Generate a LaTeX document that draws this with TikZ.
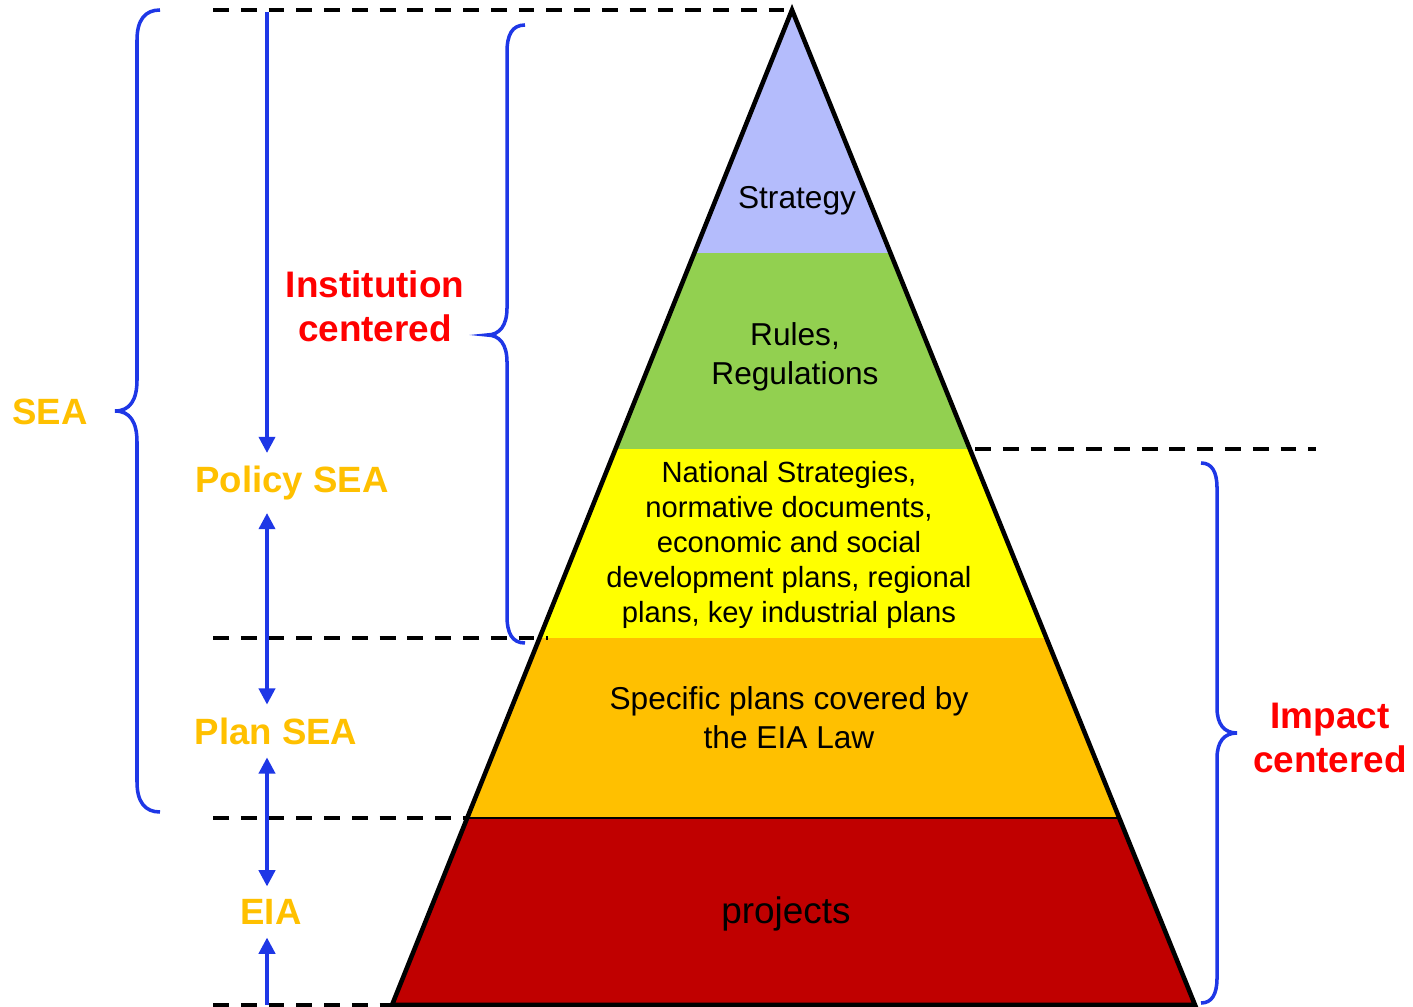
\documentclass[tikz,border=0pt]{standalone}
\usepackage{fontspec}
\setmainfont{Liberation Sans}
\usetikzlibrary{arrows.meta}

\definecolor{stratblue}{RGB}{180,188,252}
\definecolor{rulesgreen}{RGB}{146,208,80}
\definecolor{natyellow}{RGB}{255,255,0}
\definecolor{planorange}{RGB}{255,192,0}
\definecolor{projred}{RGB}{192,0,0}
\definecolor{seagold}{RGB}{255,192,0}
\definecolor{linkblue}{RGB}{30,55,230}
\definecolor{focusred}{RGB}{255,0,0}

\tikzset{
    tiertext/.style={align=center, font=\fontsize{9}{11.1}\selectfont},
    seatext/.style={inner sep=0pt, text=seagold, font=\bfseries\fontsize{10.4}{12.5}\selectfont},
    focustext/.style={align=center, text=focusred, font=\bfseries\fontsize{10.5}{12.5}\selectfont},
    flow/.style={linkblue, line width=1pt, shorten <=3.5pt, shorten >=3.5pt,
        >={Triangle[length=4.6pt, width=4.6pt]}},
    bracket/.style={linkblue, line width=1pt},
    guide/.style={line width=1pt, dash pattern=on 4.5pt off 3.4pt}
}

\begin{document}
\begin{tikzpicture}[x=0.01cm, y=-0.01cm]
        \useasboundingbox (0, 0) rectangle (1413, 1007);

        % Pyramid corners
        \coordinate (apex) at (792, 10);
        \coordinate (baseL) at (392, 1005);
        \coordinate (baseR) at (1195, 1005);

        % Pyramid layers
        \begin{scope}
            \clip (apex) -- (baseL) -- (baseR) -- cycle;
            \fill [stratblue] (380, 0) rectangle (1210, 253);
            \fill [rulesgreen] (380, 253) rectangle (1210, 449);
            \fill [natyellow] (380, 449) rectangle (1210, 638);
            \fill [planorange] (380, 638) rectangle (1210, 818);
            \fill [projred] (380, 818) rectangle (1210, 1010);
        \end{scope}
        \draw [line width=0.7pt] (467, 818) -- (1118, 818);
        \draw [line width=1.3pt, line join=miter] (apex) -- (baseL) -- (baseR) -- cycle;

        % Level guides
        \draw [guide] (213, 10) -- (apex);
        \draw [guide] (975, 449) -- (1316, 449);
        \draw [guide] (213, 638) -- (548, 638);
        \draw [guide] (213, 818) -- (467, 818);
        \draw [guide] (213, 1005) -- (baseL);

        % Layer texts
        \node [tiertext] (strategy) at (797, 201) {Strategy};
        \node [tiertext] (rules) at (795, 357) {Rules,\\Regulations};
        \node [tiertext, font=\fontsize{8.3}{10}\selectfont] (national) at (789, 545)
            {National Strategies,\\normative documents,\\economic and social\\development plans, regional\\plans, key industrial plans};
        \node [tiertext] (specific) at (789, 718) {Specific plans covered by\\the EIA Law};
        \node [tiertext, font=\fontsize{10.5}{12.5}\selectfont] (projects) at (786, 914) {projects};

        % Assessment levels
        \node [seatext] (sea) at (50, 412) {SEA};
        \node [seatext] (policy) at (292, 483) {Policy SEA};
        \node [seatext] (plan) at (276, 731) {Plan SEA};
        \node [seatext] (eia) at (271, 912) {EIA};
        \node [focustext] (inst) at (375, 306) {Institution\\centered};
        \node [focustext] (impact) at (1330, 738) {Impact\\centered};

        % Arrows
        \coordinate (arrtop) at (267, 12);
        \coordinate (arrbot) at (267, 1005);
        \draw [flow, shorten <=0pt, ->] (arrtop) -- (arrtop |- policy.north);
        \draw [flow, <->] (arrtop |- policy.south) -- (arrtop |- plan.north);
        \draw [flow, <->] (arrtop |- plan.south) -- (arrtop |- eia.north);
        \draw [flow, shorten <=0pt, ->] (arrbot) -- (arrbot |- eia.south);

        % Braces
        \draw [bracket] (160, 10) .. controls (145, 10) and (137, 20) .. (137, 40) -- (137, 380)
            .. controls (137, 400) and (130, 411) .. (115, 411)
            .. controls (130, 411) and (137, 422) .. (137, 442) -- (137, 782)
            .. controls (137, 802) and (145, 812) .. (160, 812);
        \draw [bracket] (525, 25) .. controls (512, 25) and (507, 35) .. (507, 52) -- (507, 308)
            .. controls (507, 325) and (500, 335) .. (487, 335)
            .. controls (500, 335) and (507, 345) .. (507, 362) -- (507, 616)
            .. controls (507, 633) and (512, 643) .. (525, 643);
        \draw [bracket] (1201, 463) .. controls (1212, 463) and (1217, 472) .. (1217, 488) -- (1217, 708)
            .. controls (1217, 724) and (1224, 733) .. (1237, 733)
            .. controls (1224, 733) and (1217, 742) .. (1217, 758) -- (1217, 978)
            .. controls (1217, 994) and (1212, 1003) .. (1201, 1003);
    \end{tikzpicture}
\end{document}
